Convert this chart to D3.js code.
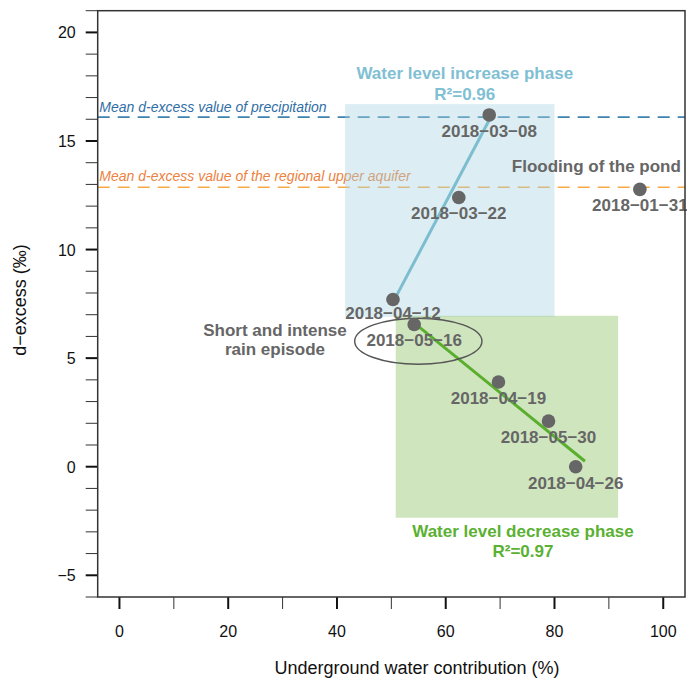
<!DOCTYPE html>
<html lang="en">
<head>
    <meta charset="utf-8">
    <script src="https://d3js.org/d3.v7.min.js"></script>
    <style>
        body {
            margin: 0;
            background: #fff;
        }

        text {
            font-family: "Liberation Sans", Arial, Helvetica, sans-serif;
        }
    </style>
</head>
<body>
<svg id="chart" width="687" height="678"></svg>
<script type="text/javascript">
    // sample dates and measurements
    const dates = ["2018−03−08", "2018−03−22", "2018−04−12", "2018−05−16",
        "2018−04−19", "2018−05−30", "2018−04−26", "2018−01−31"];
    const contribution = [68.0, 62.4, 50.3, 54.2, 69.7, 78.9, 83.9, 95.7];
    const dExcess = [16.2, 12.4, 7.7, 6.55, 3.9, 2.1, 0.0, 12.77];

    // fitted lines (start / end)
    const increaseFitX = [51.0, 68.7];
    const increaseFitY = [7.9, 16.3];
    const decreaseFitX = [54.8, 85.6];
    const decreaseFitY = [6.5, 0.25];

    // phase boxes
    const increaseBoxX = [41.5, 80.0];
    const increaseBoxY = [6.9, 16.7];
    const decreaseBoxX = [50.8, 91.7];
    const decreaseBoxY = [-2.35, 6.95];

    // reference means
    const meanPrecipitation = 16.1;
    const meanAquifer = 12.87;

    const xTicks = [0, 20, 40, 60, 80, 100];
    const yTicks = [-5, 0, 5, 10, 15, 20];

    const width = 687;
    const height = 678;
    const margin = {top: 10.7, right: 2, bottom: 81, left: 97.7};

    const x = d3.scaleLinear().domain([-4, 104]).range([margin.left, width - margin.right]);
    const y = d3.scaleLinear().domain([-6, 21]).range([height - margin.bottom, margin.top]);

    const svg = d3.select('#chart');

    const points = dates.map((d, i) => ({date: d, x: contribution[i], y: dExcess[i]}));

    // dashed mean lines
    svg.append('line')
        .attr('x1', x(-4)).attr('x2', x(104))
        .attr('y1', y(meanPrecipitation)).attr('y2', y(meanPrecipitation))
        .attr('stroke', '#3f82ad').attr('stroke-width', 1.6)
        .attr('stroke-dasharray', '12,8');
    svg.append('line')
        .attr('x1', x(-4)).attr('x2', x(104))
        .attr('y1', y(meanAquifer)).attr('y2', y(meanAquifer))
        .attr('stroke', '#f7a945').attr('stroke-width', 1.6)
        .attr('stroke-dasharray', '12,8');

    svg.append('text')
        .attr('x', x(-3.7)).attr('y', y(meanPrecipitation) - 5.5)
        .attr('font-size', 14).attr('font-style', 'italic')
        .attr('fill', '#2f6ea6')
        .text('Mean d-excess value of precipitation');
    svg.append('text')
        .attr('x', x(-3.7)).attr('y', y(meanAquifer) - 6.5)
        .attr('font-size', 14).attr('font-style', 'italic')
        .attr('fill', '#ec8240')
        .text('Mean d-excess value of the regional upper aquifer');

    // phase boxes
    svg.append('rect')
        .attr('x', x(increaseBoxX[0])).attr('width', x(increaseBoxX[1]) - x(increaseBoxX[0]))
        .attr('y', y(increaseBoxY[1])).attr('height', y(increaseBoxY[0]) - y(increaseBoxY[1]))
        .attr('fill', '#a8d5e0').attr('fill-opacity', 0.4);
    svg.append('rect')
        .attr('x', x(decreaseBoxX[0])).attr('width', x(decreaseBoxX[1]) - x(decreaseBoxX[0]))
        .attr('y', y(decreaseBoxY[1])).attr('height', y(decreaseBoxY[0]) - y(decreaseBoxY[1]))
        .attr('fill', '#8cc063').attr('fill-opacity', 0.42);

    // regression lines
    svg.append('line')
        .attr('x1', x(increaseFitX[0])).attr('y1', y(increaseFitY[0]))
        .attr('x2', x(increaseFitX[1])).attr('y2', y(increaseFitY[1]))
        .attr('stroke', '#7dbdd0').attr('stroke-width', 3);
    svg.append('line')
        .attr('x1', x(decreaseFitX[0])).attr('y1', y(decreaseFitY[0]))
        .attr('x2', x(decreaseFitX[1])).attr('y2', y(decreaseFitY[1]))
        .attr('stroke', '#5aae2e').attr('stroke-width', 3);

    // ellipse around the rain episode sample
    svg.append('ellipse')
        .attr('cx', x(54.96)).attr('cy', y(5.78))
        .attr('rx', x(54.96 + 11.7) - x(54.96))
        .attr('ry', y(5.78) - y(5.78 + 1.06))
        .attr('fill', 'none').attr('stroke', '#555').attr('stroke-width', 1.4);

    // points
    svg.append('g')
        .selectAll('circle')
        .data(points)
        .join('circle')
        .attr('cx', d => x(d.x))
        .attr('cy', d => y(d.y))
        .attr('r', 6.8)
        .attr('fill', '#666');

    svg.append('g')
        .selectAll('text')
        .data(points)
        .join('text')
        .attr('x', d => x(d.x))
        .attr('y', d => y(d.y) + (d.date === "2018−04−12" ? 19 : 22))
        .attr('text-anchor', 'middle')
        .attr('font-size', 17).attr('font-weight', 'bold')
        .attr('fill', '#666')
        .text(d => d.date);

    // annotations
    const bold = (t, px, py, color) => svg.append('text')
        .attr('x', px).attr('y', py)
        .attr('text-anchor', 'middle')
        .attr('font-size', 17).attr('font-weight', 'bold')
        .attr('fill', color)
        .text(t);

    bold('Water level increase phase', x(63.5), y(17.87), '#7fc0d3');
    bold('R²=0.96', x(63.5), y(16.9), '#7fc0d3');
    bold('Water level decrease phase', x(74.2), y(-3.22), '#5ab132');
    bold('R²=0.97', x(74.2), y(-4.14), '#5ab132');
    bold('Flooding of the pond', x(87.7), y(13.58), '#666');
    bold('Short and intense', x(28.6), y(6.0), '#666');
    bold('rain episode', x(28.6), y(5.13), '#666');

    // axes
    const plotBottom = y(-6);

    const xMinor = d3.range(10, 101, 20);
    svg.append('g').selectAll('line').data(xMinor).join('line')
        .attr('x1', d => x(d)).attr('x2', d => x(d))
        .attr('y1', plotBottom).attr('y2', plotBottom + 12)
        .attr('stroke', '#333').attr('stroke-width', 1);
    svg.append('g').selectAll('line').data(xTicks).join('line')
        .attr('x1', d => x(d)).attr('x2', d => x(d))
        .attr('y1', plotBottom).attr('y2', plotBottom + 12)
        .attr('stroke', '#111').attr('stroke-width', 2);
    svg.append('g').selectAll('text').data(xTicks).join('text')
        .attr('x', d => x(d)).attr('y', plotBottom + 40)
        .attr('text-anchor', 'middle')
        .attr('font-size', 16).attr('fill', '#111')
        .text(d => d);

    const yMinor = d3.range(-6, 22).filter(v => v % 5 !== 0);
    svg.append('g').selectAll('line').data(yMinor).join('line')
        .attr('x1', margin.left - 12).attr('x2', margin.left)
        .attr('y1', d => y(d)).attr('y2', d => y(d))
        .attr('stroke', '#333').attr('stroke-width', 1);
    svg.append('g').selectAll('line').data(yTicks).join('line')
        .attr('x1', margin.left - 12).attr('x2', margin.left)
        .attr('y1', d => y(d)).attr('y2', d => y(d))
        .attr('stroke', '#111').attr('stroke-width', 2);
    svg.append('g').selectAll('text').data(yTicks).join('text')
        .attr('x', margin.left - 22).attr('y', d => y(d) + 6)
        .attr('text-anchor', 'end')
        .attr('font-size', 16).attr('fill', '#111')
        .text(d => d < 0 ? '−' + Math.abs(d) : d);

    // frame
    svg.append('rect')
        .attr('x', x(-4)).attr('y', y(21))
        .attr('width', x(104) - x(-4)).attr('height', y(-6) - y(21))
        .attr('fill', 'none').attr('stroke', '#333').attr('stroke-width', 1.5);

    svg.append('text')
        .attr('x', 417).attr('y', 674)
        .attr('text-anchor', 'middle')
        .attr('font-size', 18).attr('fill', '#111')
        .text('Underground water contribution (%)');

    svg.append('text')
        .attr('transform', 'translate(26,300) rotate(-90)')
        .attr('text-anchor', 'middle')
        .attr('font-size', 18).attr('fill', '#111')
        .text('d−excess (‰)');
</script>
</body>
</html>
